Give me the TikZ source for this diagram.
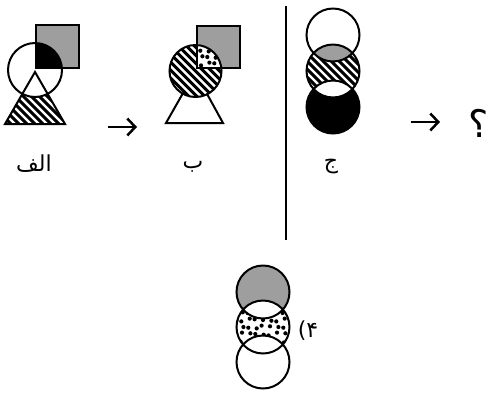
\documentclass[tikz,border=0pt]{standalone}
\usepackage{fontspec}
\newfontfamily\arabicfont[Script=Arabic]{DejaVu Sans}
\TeXXeTstate=1
\usetikzlibrary{arrows.meta}
\tikzset{
  outline/.style={line width=2pt},
  grayfill/.style={fill=black!38},
  stripeline/.style={line width=2.9pt},
  nextarrow/.style={-{Straight Barb[length=8pt,width=17pt]},line width=2.5pt},
  caption/.style={font=\arabicfont\fontsize{22}{26}\selectfont,inner sep=0pt,anchor=base}
}
\newcommand{\stripefield}[2]{%
  \foreach \k in {-10,...,10}
    \draw[stripeline] (#1+\k*8-40,#2-40) -- ++(80,80);
}
\newcommand{\dotfield}[2]{%
  \foreach \i in {-5,...,5}
    \foreach \j in {-5,...,5} {
      \pgfmathsetmacro\jx{mod(\i*7+\j*13+70,5)*0.7-1.4}
      \pgfmathsetmacro\jy{mod(\i*11+\j*3+70,5)*0.7-1.4}
      \fill (#1+\i*7+\jx,#2+\j*7+\jy) circle[radius=2.1];
    }
}
\begin{document}
\begin{tikzpicture}[x=1pt,y=-1pt]
  \useasboundingbox (0,0) rectangle (490,392);
  % alef
  \fill[grayfill] (36,25) rectangle (79,68);
  \begin{scope}
    \clip (5,124) -- (35,72) -- (65,124) -- cycle;
    \stripefield{35}{100}
  \end{scope}
  \fill[white] (35,70) circle[radius=27];
  \begin{scope}
    \clip (36,25) rectangle (79,68);
    \fill (35,70) circle[radius=27];
  \end{scope}
  \draw[outline] (36,25) rectangle (79,68);
  \draw[outline] (35,70) circle[radius=27];
  \draw[outline,line join=miter] (5,124) -- (35,72) -- (65,124) -- cycle;
  % be
  \fill[white] (166,123) -- (195,72) -- (223,123) -- cycle;
  \draw[outline,line join=miter] (166,123) -- (195,72) -- (223,123) -- cycle;
  \fill[grayfill] (197,26) rectangle (240,68);
  \fill[white] (195.5,71) circle[radius=26];
  \begin{scope}
    \clip (195.5,71) circle[radius=26];
    \stripefield{195.5}{71}
    \fill[white] (197,26) rectangle (240,68);
    \clip (197,26) rectangle (240,68);
    \dotfield{215}{50}
  \end{scope}
  \draw[outline] (197,26) rectangle (240,68);
  \draw[outline] (195.5,71) circle[radius=26];
  % jim
  \fill[white] (333,35) circle[radius=26.5];
  \fill (333,107) circle[radius=26.5];
  \fill[white] (333,71) circle[radius=26.5];
  \begin{scope}
    \clip (333,71) circle[radius=26.5];
    \stripefield{333}{71}
    \fill[grayfill] (333,35) circle[radius=26.5];
    \fill[white] (333,107) circle[radius=26.5];
  \end{scope}
  \foreach \cy in {35,71,107}
    \draw[outline] (333,\cy) circle[radius=26.5];
  % option four
  \fill[grayfill] (263,292) circle[radius=26.5];
  \fill[white] (263,362) circle[radius=26.5];
  \fill[white] (263,327) circle[radius=26.5];
  \begin{scope}
    \clip (263,327) circle[radius=26.5];
    \dotfield{263}{327}
    \fill[white] (263,292) circle[radius=26.5];
    \fill[white] (263,362) circle[radius=26.5];
  \end{scope}
  \foreach \cy in {292,327,362}
    \draw[outline] (263,\cy) circle[radius=26.5];
  % separator and arrows
  \coordinate (splittop) at (285.5,6);
  \coordinate (splitbottom) at (285.5,240);
  \draw[line width=2pt] (splittop) -- (splitbottom);
  \coordinate (firsttail) at (108,127);
  \coordinate (firsthead) at (137,127);
  \draw[nextarrow] (firsttail) -- (firsthead);
  \coordinate (secondtail) at (411,122);
  \coordinate (secondhead) at (440,122);
  \draw[nextarrow] (secondtail) -- (secondhead);
  % labels
  \node[caption] (alef) at (34,171) {\beginR الف\endR};
  \node[caption] (be) at (193,168) {\beginR ب\endR};
  \node[caption] (jim) at (331,168) {\beginR ج\endR};
  \node[caption,font=\arabicfont\fontsize{38}{42}\selectfont] (query) at (479,137) {\beginR ؟\endR};
  \node[caption] (optfour) at (308,337) {\beginR ۴)\endR};
\end{tikzpicture}
\end{document}
